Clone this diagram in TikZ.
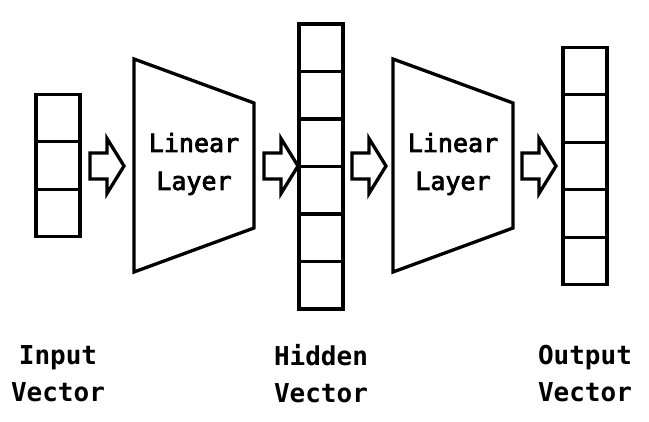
\documentclass[tikz,border=0pt]{standalone}
\usepackage{fontspec}
\setmonofont{DejaVu Sans Mono}
\newfontfamily\linfont[FakeBold=3]{DejaVu Sans Mono}
\usetikzlibrary{calc}
\newcommand{\BlkArr}[1]{\draw[blkarr]($(#1)+(0,-13)$)--++(17,0)--++(0,-14.5)--++(17,27.5)--++(-17,27.5)--++(0,-14.5)--++(-17,0)--cycle;}
\tikzset{cell/.style={draw,line width=3.3pt,minimum width=44pt,minimum height=47.5pt,inner sep=0pt}}
\tikzset{blkarr/.style={line width=3.3pt,line join=miter}}
\tikzset{trap/.style={line width=3.3pt,line join=miter}}
\tikzset{lin/.style={font=\linfont\fontsize{25}{38}\selectfont,align=center,inner sep=0pt}}
\tikzset{lbl/.style={font=\ttfamily\bfseries\fontsize{26}{37}\selectfont,align=center,inner sep=0pt}}

\begin{document}
\begin{tikzpicture}[x=1pt,y=-1pt]
\useasboundingbox (0,0) rectangle (649,422);
% vectors
\foreach \k in {0,1,2}{\node[cell](in\k)at(58,{165.5+(\k-1)*47.5}){};}
\foreach \k in {0,...,5}{\node[cell](hid\k)at(321,{166.5+(\k-2.5)*47.5}){};}
\foreach \k in {0,...,4}{\node[cell](out\k)at(585,{166+(\k-2)*47.5}){};}
% linear layers
\draw[trap](134,59)--(254,103)--(254,228)--(134,272)--cycle;
\draw[trap](393,59)--(513,103)--(513,228)--(393,272)--cycle;
\node[lin](lin1)at(194,164){Linear\\Layer};
\node[lin](lin2)at(453,164){Linear\\Layer};
% arrows
\coordinate(a1)at(90,166);\coordinate(a2)at(264,166);\coordinate(a3)at(352,166);\coordinate(a4)at(522,166);
\BlkArr{a1}\BlkArr{a2}\BlkArr{a3}\BlkArr{a4}
% labels
\node[lbl](inl)at(58,374){Input\\Vector};
\node[lbl](hidl)at(321,374){Hidden\\Vector};
\node[lbl](outl)at(585,374){Output\\Vector};
\end{tikzpicture}
\end{document}
